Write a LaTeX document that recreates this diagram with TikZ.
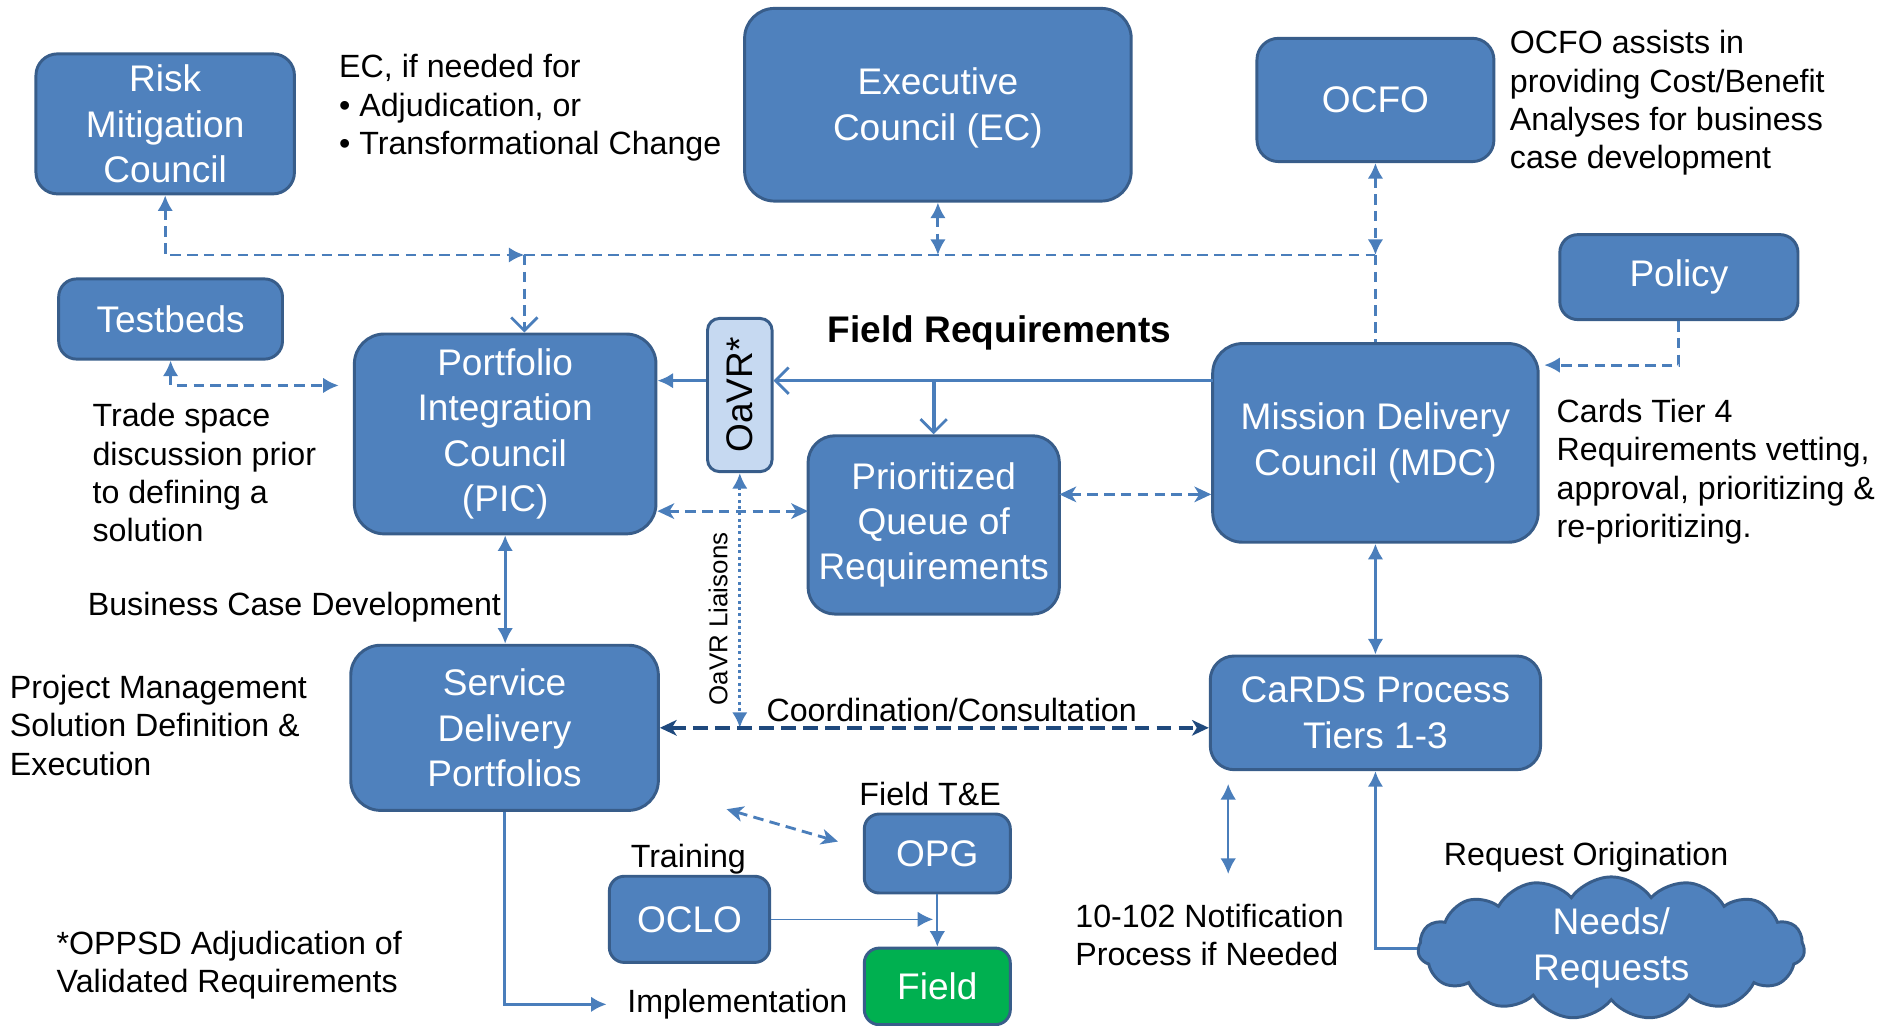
\documentclass[tikz,border=0pt]{standalone}
\usepackage{fontspec}
\setmainfont{Liberation Sans}
\usetikzlibrary{arrows.meta,shapes.symbols}
\definecolor{plava}{HTML}{4F81BD}
\definecolor{okvir}{HTML}{385D8A}
\definecolor{linija}{HTML}{4A7EBB}
\definecolor{tamna}{HTML}{1F497D}
\definecolor{svetla}{HTML}{C6D9F1}
\definecolor{zelena}{HTML}{00B050}
\tikzset{
  kutija/.style={draw=okvir,fill=plava,line width=1.4pt,rounded corners=0.36cm,
                 text=white,align=center,inner sep=0pt,
                 font=\fontsize{17.6}{21.6}\selectfont},
  oznaka/.style={align=left,inner sep=0pt,font=\fontsize{15.3}{18.2}\selectfont},
  vrh/.tip={Latex[length=2.6mm,width=2.6mm]},
  kuka/.tip={Straight Barb[length=2.2mm,width=4.4mm,line width=1.3pt]},
  stl/.tip={Stealth[length=2.8mm,width=2.6mm,inset=0.8mm]},
  str/.style={draw=linija,line width=1.4pt},
  strf/.style={draw=linija,line width=1.7pt},
  tanka/.style={draw=linija,line width=0.8pt},
  strd/.style={draw=linija,line width=1.35pt,dash pattern=on 5pt off 3pt},
  strt/.style={draw=linija,line width=1.4pt,dash pattern=on 1.4pt off 1.6pt},
  strk/.style={draw=tamna,line width=2pt,dash pattern=on 7pt off 3.5pt},
}

\begin{document}
\begin{tikzpicture}[x=0.02cm,y=-0.02cm]
  \useasboundingbox (0,0) rectangle (1568,857);

  % ---------- GORNJI RED ----------
  \node[kutija,minimum width=4.32cm,minimum height=2.34cm] (risk) at (138,103.5)
       {Risk\\Mitigation\\Council};
  \node[kutija,rounded corners=0.5cm,minimum width=6.46cm,minimum height=3.22cm] (ec) at (783.5,87.5)
       {\\[-6pt]Executive\\Council (EC)};
  \node[kutija,minimum width=3.96cm,minimum height=2.06cm] (ocfo) at (1149,83.5) {OCFO};
  \node[oznaka,anchor=west] (ecnote) at (283,90)
       {EC, if needed for\\\textbullet\ Adjudication, or\\\textbullet\ Transformational Change};
  \node[oznaka,anchor=west] (ocfonote) at (1261,86)
       {OCFO assists in\\providing Cost/Benefit\\Analyses for business\\case development};

  % ---------- SREDNJI RED ----------
  \node[kutija,rounded corners=0.3cm,minimum width=3.74cm,minimum height=1.34cm] (tb) at (142.5,266.5) {Testbeds};
  \node[kutija,rounded corners=0.3cm,minimum width=3.98cm,minimum height=1.42cm] (policy) at (1402.5,231.5) {Policy};
  \node[kutija,rounded corners=0.5cm,minimum width=5.04cm,minimum height=3.34cm] (pic) at (422,362.5)
       {Portfolio\\Integration\\Council\\(PIC)};
  \node[kutija,fill=svetla,text=black,rounded corners=0.2cm,minimum width=1.08cm,minimum height=2.56cm]
       (oavr) at (618,330) {\rotatebox{90}{OaVR*}};
  \node[kutija,rounded corners=0.5cm,minimum width=5.44cm,minimum height=3.32cm] (mdc) at (1149,370)
       {Mission Delivery\\Council (MDC)};
  \node[kutija,rounded corners=0.45cm,minimum width=4.2cm,minimum height=2.98cm] (pqr) at (780,438.5)
       {Prioritized\\Queue of\\Requirements};

  \node[oznaka,font=\bfseries\fontsize{17.6}{21.6}\selectfont] (fr) at (835,278) {Field Requirements};
  \node[oznaka,anchor=west] (tbnote) at (77,395)
       {Trade space\\discussion prior\\to defining a\\solution};
  \node[oznaka,anchor=west] (mdcnote) at (1300,394)
       {Cards Tier 4\\Requirements vetting,\\approval, prioritizing \&\\re-prioritizing.};
  \node[oznaka,anchor=west] (bcd) at (73,507) {Business Case Development};

  % ---------- DONJI RED ----------
  \node[kutija,rounded corners=0.5cm,minimum width=5.14cm,minimum height=2.76cm] (sdp) at (421.5,608)
       {Service\\Delivery\\Portfolios};
  \node[kutija,rounded corners=0.4cm,minimum width=5.52cm,minimum height=1.9cm] (cards) at (1149,595.5)
       {CaRDS Process\\Tiers 1-3};
  \node[oznaka,anchor=west] (pm) at (8,606)
       {Project Management\\Solution Definition \&\\Execution};
  \node[oznaka,font=\fontsize{12.3}{14}\selectfont,rotate=90] (liais) at (600,517) {OaVR Liaisons};
  \node[oznaka] (coord) at (795,593) {Coordination/Consultation};

  \node[kutija,rounded corners=0.25cm,minimum width=2.44cm,minimum height=1.32cm] (opg) at (783,713) {OPG};
  \node[kutija,rounded corners=0.25cm,minimum width=2.68cm,minimum height=1.44cm] (oclo) at (576,768) {OCLO};
  \node[kutija,fill=zelena,rounded corners=0.25cm,minimum width=2.44cm,minimum height=1.28cm] (field) at (783,824) {Field};
  \node[oznaka] (fte) at (777,663) {Field T\&E};
  \node[oznaka] (train) at (575,718) {Training};
  \node[oznaka] (impl) at (616,839) {Implementation};
  \node[oznaka,anchor=west] (n102) at (898,781) {10-102 Notification\\Process if Needed};
  \node[oznaka,anchor=west] (oppsd) at (47,806) {*OPPSD Adjudication of\\Validated Requirements};
  \node[oznaka] (ro) at (1325,716) {Request Origination};
  \node[kutija,sharp corners,cloud,cloud puffs=15,cloud puff arc=110,cloud ignores aspect,
        minimum width=6.46cm,minimum height=2.38cm]
       (needs) at (1346,792) {Needs/\\Requests};

  % ---------- VEZE ----------
  \coordinate (jl) at (438,213);
  \coordinate (jr) at (1149,213);
  \draw[strd,vrh-vrh] (risk.south) |- (jl);
  \draw[strd] (jl) -- (jr);
  \draw[strd,-kuka] (jl) -- (jl |- pic.north);
  \draw[strd,vrh-vrh] (ec.south) -- (ec.south |- jl);
  \draw[strd,vrh-vrh] (ocfo.south) -- (jr);
  \draw[strd] (jr) -- (mdc.north);

  \coordinate (tbe) at (283,322);
  \draw[strd,vrh-vrh] (tb.south) |- (tbe);

  % field requirements
  \coordinate (frd) at (1013,318);
  \draw[strf,-kuka] (frd) -- (frd -| oavr.east);
  \draw[strf,-vrh] (frd -| oavr.west) -- (frd -| pic.east);
  \draw[strf,-kuka] (frd -| pqr.north) -- (pqr.north);

  \coordinate (q1) at (675,427);
  \draw[strd,stl-stl] (q1 -| pic.east) -- (q1);
  \coordinate (q2) at (885,413);
  \draw[strd,stl-stl] (q2) -- (q2 -| mdc.west);

  \coordinate (pol) at (1290,305);
  \draw[strd,-vrh] (policy.south) |- (pol);

  \draw[strt,vrh-vrh] (oavr.south) -- (oavr.south |- sdp.east);
  \draw[strk,stl-stl] (sdp.east) -- (sdp.east -| cards.west);
  \draw[str,vrh-vrh] (pic.south) -- (pic.south |- sdp.north);
  \draw[str,vrh-vrh] (mdc.south) -- (cards.north);

  % implementation, training, field
  \draw[str,-vrh] (sdp.south) |- ([xshift=-0.34cm]impl.west);
  \coordinate (dga) at (607,676);
  \coordinate (dgb) at (700,703);
  \draw[strd,stl-stl] (dga) -- (dgb);
  \draw[tanka,-vrh,shorten >=2pt] (oclo.east) -- (oclo.east -| opg.south);
  \draw[tanka,-vrh] (opg.south) -- (field.north);

  \coordinate (na) at (1026,655);
  \coordinate (nb) at (1026,730);
  \draw[tanka,vrh-vrh] (na) -- (nb);
  \draw[str,-vrh] (needs.west) -| (cards.south);

\end{tikzpicture}
\end{document}
